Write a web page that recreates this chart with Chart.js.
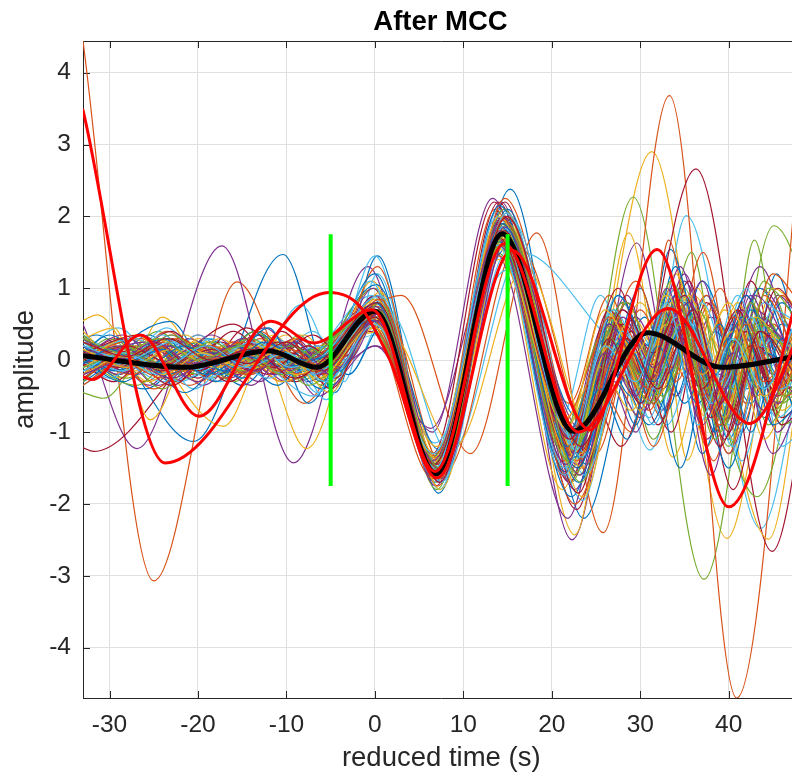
<!DOCTYPE html>
<html>
<head>
<meta charset="utf-8">
<script src="https://cdn.jsdelivr.net/npm/chart.js@4/dist/chart.umd.min.js"></script>
<style>
  html, body { margin: 0; padding: 0; overflow: hidden; background: #fff; }
</style>
</head>
<body>
<canvas id="mcc-chart" width="881" height="782"></canvas>
<script>
// 刻度
const xTicks = [-30, -20, -10, 0, 10, 20, 30, 40];
const yTicks = [-4, -3, -2, -1, 0, 1, 2, 3, 4];

// 細線 (每條為 [時間, 振幅, 時間, 振幅, ...] 的極值點)
const blueLines = [
  [-33,0.3, -31.5,0.35, -20.5,-1.13, -10.4,1.47, -4.5,-0.45, 0.3,1.45, 7.2,-1.85, 15.3,2.38, 23.6,-2.2, 30.5,0.6, 34,-0.5, 37.5,0.9, 41.5,-1.0, 45.4,1.2, 48,0.2],
  [-33,-0.1, -29,0.25, -24,-0.2, -19,0.3, -14,-0.1, -9,0.25, -5.5,-0.2, 0,0.9, 6.8,-1.7, 14.2,2.0, 22,-1.3, 27,0.2, 30,-0.4, 33.4,1.54, 38,-0.6, 42,0.5, 45,-0.3, 48,0.4],
  [-33,0.3, -30,0.0, -25.5,0.35, -21,-0.25, -16,0.2, -12,-0.05, -8,0.3, -5,-0.35, 0.5,0.6, 7,-1.5, 14.5,1.8, 22.8,-1.1, 28,0.8, 32,-0.2, 36,0.7, 40,-1.1, 44,0.6, 48,-0.5],
  [-33,-0.25, -23.1,0.54, -18,-0.3, -13,0.35, -9.5,-0.2, -6.5,0.1, 0,0.75, 6.5,-1.35, 13.8,1.7, 21.5,-1.55, 26,0.3, 29.5,-0.9, 33,0.9, 37,-1.3, 41,0.2, 44,-0.8, 48,0.3],
  [-33,0.05, -26,-0.4, -20,0.15, -15,-0.35, -10,0.2, -6,-0.3, -0.5,0.5, 6.9,-1.6, 14.3,1.9, 23,-0.8, 29,0.4, 33,-0.7, 37,1.1, 42,-0.4, 46,0.8, 48,0.5],
  [-33,0.2, -29.5,-0.15, -24,0.3, -19,-0.15, -13.5,0.4, -8,-0.15, 0.2,1.05, 7.5,-1.65, 15,2.1, 23,-1.7, 28.5,0.1, 31.5,-0.6, 35,0.8, 39,-0.8, 43.5,1.0, 48,-0.4],
  [-33,-0.3, -27,0.1, -21.5,-0.45, -16,0.1, -11,-0.35, -7,0.15, -3,-0.2, 1,0.5, 7.3,-1.25, 14.8,1.55, 24,-1.45, 30,1.0, 34.5,-1.5, 38.5,0.4, 42.5,-0.6, 46,0.5, 48,0.3],
  [-33,0.1, -30,0.35, -25,-0.05, -20,0.25, -15,-0.25, -11,0.1, -6,-0.4, -0.2,0.85, 6.7,-1.45, 13.9,1.6, 22.2,-1.9, 27.5,-0.2, 31,-0.9, 35.5,0.3, 40,-1.5, 44,0.1, 48,-0.2],
  [-33,0.0, -28.5,-0.3, -23,0.2, -17.5,-0.2, -12,0.45, -7.5,-0.6, 0,1.2, 6.8,-1.55, 14.1,2.15, 21.8,-1.0, 26.5,0.5, 30.5,-0.2, 34,1.3, 38.5,-1.0, 42.5,0.7, 48,-0.9],
  [-33,0.05, -29,-0.15, -25,0.2, -20.5,-0.1, -16,0.2, -11.5,0.0, -7,0.15, -4,-0.15, 0.2,0.7, 6.9,-1.5, 14.3,1.85, 22.3,-1.05, 26,0.0, 29,-0.5, 32.5,0.7, 36.5,-0.6, 40,0.3, 43.5,-0.4, 48,0.4],
  [-33,-0.15, -28,0.1, -23.5,-0.2, -18.5,0.1, -14,-0.05, -9.5,0.2, -5.5,-0.1, 0.4,0.6, 7.1,-1.6, 14.5,1.75, 22.6,-1.35, 27.5,0.9, 31,0.2, 34,0.9, 38,-0.3, 42,0.9, 45.5,-0.2, 48,0.2],
  [-33,0.2, -28.5,-0.05, -24,0.15, -19,-0.2, -14.5,0.05, -10,-0.1, -6.5,0.05, -0.3,0.55, 6.6,-1.45, 14,1.65, 21.8,-1.2, 25.5,-0.4, 28.5,-1.1, 32,0.2, 35,-0.6, 39,0.5, 42.5,-1.0, 46,0.3, 48,0.1],
  [-33,-0.05, -30,0.15, -26,-0.1, -21.5,0.2, -17,-0.15, -12.5,0.25, -8,0.0, -5,0.1, 0.1,0.8, 7,-1.55, 14.4,1.9, 22.9,-1.5, 28,0.3, 31.5,-0.3, 35,0.5, 38.5,-0.2, 41.5,0.6, 45,-0.9, 48,-0.6],
];
const orangeLines = [
  [-33,4.44, -25,-3.07, -15.6,1.09, -8,-0.6, -0.2,1.0, 7,-1.6, 14.5,1.9, 22,-1.2, 27,0.3, 31,-0.6, 35,0.6, 39,-0.8, 43,0.4, 48,0.1],
  [-33,-0.1, -28,0.3, -22,-0.2, -16,0.25, -10,-0.1, -4,0.4, 3,0.9, 10.8,-1.3, 18.3,1.77, 25.8,-2.4, 33.3,3.68, 40.9,-4.7, 49.5,5.0],
  [-33,0.15, -29,-0.2, -24,0.25, -18,-0.3, -13,0.3, -8.5,-0.1, -0.5,0.6, 7,-1.4, 14.6,1.85, 22.5,-1.6, 28,0.5, 32.5,-0.8, 37.1,1.5, 41.5,-0.9, 45,0.5, 48,-0.2],
  [-33,-0.2, -27,0.2, -21,-0.35, -15,0.2, -11,-0.2, -6.5,0.15, -3.5,-0.1, 0.5,0.7, 7.2,-1.5, 14.2,1.6, 22,-0.6, 26.5,0.9, 30.5,-0.4, 33.2,1.67, 37.5,-1.2, 41.5,0.3, 45,-0.7, 48,0.4],
  [-33,0.35, -28,0.0, -23.5,0.4, -19,0.0, -14.5,0.3, -10,-0.25, -6,0.1, 0.8,0.8, 8,-1.55, 16.2,1.6, 25,-1.3, 30,0.7, 34,-0.3, 38,0.8, 42,-0.6, 46,0.9, 48,0.6],
  [-33,-0.1, -30.5,0.2, -26,-0.3, -21.5,0.1, -17,-0.1, -13,0.4, -9,0.0, -1,0.65, 6.6,-1.65, 13.6,2.1, 21.3,-1.4, 25.5,-0.4, 29,-1.0, 32,0.5, 35.5,-0.3, 39,1.0, 43,-0.5, 48,0.5],
  [-33,0.05, -26.5,0.3, -20.5,-0.2, -16,0.25, -10.5,-0.3, -5,0.0, 0,0.55, 6.9,-1.45, 14.4,1.75, 22.6,-2.0, 28.5,-0.2, 31,-0.7, 34.5,0.4, 38.3,-1.4, 42.5,0.8, 46,-0.2, 48,0.1],
  [-33,-0.35, -29,-0.05, -25,-0.4, -19.5,0.15, -14,-0.2, -9,0.3, -5.5,-0.3, 0.3,1.3, 7.1,-1.75, 14.7,2.25, 23.3,-1.1, 29.5,1.1, 33.5,-0.1, 37.5,0.9, 41,-0.2, 45,1.2, 48,0.8],
  [-33,0.1, -27.5,-0.2, -22,0.3, -17,-0.25, -12.5,0.15, -8.5,-0.2, -0.5,0.5, 6.8,-1.3, 14,1.45, 21,-0.9, 27,0.6, 31.5,-1.2, 36,0.4, 40,-1.3, 44,0.9, 48,-0.1],
  [-33,0.1, -29.5,-0.1, -25,0.2, -21,-0.15, -16.5,0.15, -12,-0.1, -7.5,0.2, -4.5,-0.05, 0,0.65, 6.9,-1.55, 14.2,1.7, 22.5,-1.1, 27,0.5, 30.5,-0.2, 34,1.0, 37.5,-0.3, 41,0.5, 44.5,-0.6, 48,0.3],
  [-33,-0.1, -28,0.1, -23,-0.15, -18.5,0.2, -14,-0.05, -10,0.25, -5.5,-0.2, 0.3,0.75, 7.2,-1.6, 14.6,1.95, 22.8,-1.4, 28,0.2, 31.5,-0.6, 35,0.5, 39,-0.9, 43,0.2, 46.5,-0.5, 48,-0.4],
  [-33,0.25, -28.5,0.05, -24.5,0.2, -20,-0.1, -15,0.25, -11,-0.15, -6.5,0.05, -0.5,0.6, 6.7,-1.45, 13.9,1.8, 21.5,-1.25, 26.5,0.6, 30,0.0, 33,0.7, 37,-0.5, 40.5,0.6, 44,-0.3, 48,0.6],
  [-33,-0.25, -29,0.0, -24,-0.25, -19,0.05, -14.5,-0.2, -9.5,0.15, -6,-0.1, 0.6,0.85, 7.3,-1.65, 14.8,2.0, 23,-1.0, 27.5,0.1, 31,-0.4, 34.5,0.8, 38,-0.7, 42,0.5, 45.5,-0.4, 48,0.0],
];
const yellowLines = [
  [-33,0.55, -31.4,0.63, -26,-0.1, -21,0.3, -16,-0.2, -11,0.2, -7,-0.1, 0,0.6, 6.9,-1.5, 14.4,1.8, 23,-1.2, 31.3,2.9, 39.8,-2.48, 46,0.6, 48,0.5],
  [-33,0.1, -28.5,-0.25, -24,0.6, -19,-0.1, -13.5,0.25, -7.7,-1.23, -0.3,1.1, 7,-1.7, 14.6,2.0, 22.6,-2.43, 28.7,1.77, 33.7,-1.35, 38,0.3, 42,-0.9, 48,0.6],
  [-33,0.3, -29.5,0.45, -25.4,-0.83, -20,0.3, -15,-0.1, -10,0.35, -6,-0.25, 0.5,0.8, 7.5,-1.4, 15,1.65, 22,-1.15, 27,0.4, 31,-0.6, 36,0.9, 44.5,-2.49, 49,0.6],
  [-33,-0.15, -27.5,0.3, -17.1,-0.92, -11.5,0.35, -6.5,-0.3, 0,0.7, 6.8,-1.6, 14.2,1.95, 22.3,-1.5, 27,0.6, 30,-0.1, 32.5,0.6, 35.3,-1.39, 39.5,0.7, 44,-0.5, 48,0.3],
  [-33,0.2, -27,-0.15, -21.5,0.35, -16.5,-0.15, -12,0.3, -7,-0.1, -0.8,0.7, 6.4,-1.45, 13.7,1.8, 21.2,-1.8, 26,0.0, 30,-0.8, 34,1.2, 38,-0.5, 42,0.6, 46,-0.7, 48,-0.5],
  [-33,-0.1, -28,0.2, -23,-0.2, -17,0.2, -12,-0.15, -6,0.2, 1.5,0.4, 9,-1.2, 17,1.3, 24.5,-1.0, 30,0.8, 34,-0.2, 38,0.7, 41.5,-0.3, 45,1.0, 48,0.7],
  [-33,0.4, -29,0.0, -24.5,0.3, -20,-0.3, -15,0.15, -10.5,-0.3, -4.5,0.25, 0.3,0.5, 7.1,-1.55, 14.9,2.05, 23.2,-1.3, 28,0.3, 32,-0.5, 36,0.8, 39.8,-0.6, 43,0.3, 48,-0.8],
  [-33,-0.2, -30,0.1, -25.5,-0.3, -20.5,0.25, -15.5,-0.2, -10,0.1, -5,-0.45, 0.6,0.95, 7.4,-1.8, 15.1,1.9, 23.5,-1.9, 29,0.6, 33,-0.1, 36.5,1.0, 40.5,-1.1, 44.5,0.4, 48,-0.3],
  [-33,0.0, -27,0.35, -22,-0.1, -17.5,0.3, -13,-0.1, -8,0.35, -4.5,-0.1, 0,0.45, 7,-1.2, 14,1.4, 21.5,-0.8, 25.5,-0.1, 29,-0.7, 33,0.5, 37.5,-0.8, 41,0.2, 45,-0.6, 48,0.5],
  [-33,0.0, -28,0.2, -23.5,-0.1, -19,0.15, -14.5,-0.15, -10,0.1, -6,-0.15, 0,0.7, 7,-1.5, 14.5,1.8, 22.4,-1.2, 27,0.4, 30.5,-0.5, 34,0.6, 37.5,-0.4, 41,0.8, 44.5,-0.3, 48,0.3],
  [-33,-0.1, -29.5,0.1, -25.5,-0.15, -21,0.15, -16,-0.05, -12,0.2, -8,-0.1, -4,0.2, 0.5,0.6, 7.2,-1.4, 14.7,1.7, 23.5,-1.5, 28.5,0.5, 32,-0.2, 35.5,0.9, 39.5,-0.8, 43,0.6, 48,-0.4],
  [-33,0.15, -28,-0.1, -23,0.15, -18,-0.1, -13.5,0.2, -9,-0.2, -5.5,0.0, 0.2,0.85, 6.8,-1.6, 14.1,2.0, 22,-1.35, 26.5,0.2, 30,-0.7, 33.5,0.8, 37,-0.2, 40.5,0.4, 44,-1.1, 48,0.2],
  [-33,-0.2, -28.5,0.05, -24,-0.2, -19.5,0.1, -15,-0.1, -10.5,0.15, -6.5,-0.25, 0,0.5, 6.7,-1.35, 14,1.55, 21.7,-0.95, 26,0.7, 29.5,0.1, 33,0.9, 36.5,0.0, 40,0.8, 44,-0.5, 48,0.5],
];
const purpleLines = [
  [-33,0.5, -26.9,-1.23, -17.3,1.59, -9.2,-1.43, -0.8,1.3, 6.9,-1.7, 14.3,2.2, 22.3,-2.5, 29.6,1.63, 34,-0.5, 38,0.6, 42,-0.6, 45.5,0.9, 48,0.6],
  [-33,-0.1, -28,0.2, -23,-0.3, -18,0.15, -13,-0.3, -8.5,0.3, -4.5,-0.1, 0.2,0.2, 6.5,-1.0, 13.3,2.25, 21.5,-1.2, 26,0.5, 30,-0.3, 33.5,1.0, 37.5,-1.1, 43.5,1.3, 48,-0.3],
  [-33,0.2, -29,-0.2, -24,0.2, -19.5,-0.35, -14.5,0.1, -10,-0.3, -6,0.2, -0.5,0.75, 6.6,-1.55, 13.9,1.9, 22,-1.7, 27,0.4, 31,-0.5, 35,1.1, 39,-0.2, 43.5,1.0, 48,0.2],
  [-33,-0.3, -30,0.05, -25.5,-0.35, -21,0.3, -16,-0.1, -12,0.25, -7.5,-0.3, 0.3,0.9, 7.2,-1.65, 14.6,2.1, 23,-1.25, 28,0.7, 31.5,0.0, 35,1.2, 40,-1.3, 44,0.1, 48,-0.4],
  [-33,0.15, -27,-0.2, -21.5,0.25, -16.5,-0.25, -11,0.2, -6.5,-0.5, 0,0.2, 6.3,-0.95, 13.6,1.5, 21.8,-2.2, 26.5,-0.3, 29.5,-1.0, 33,0.3, 37,-0.4, 40.5,0.5, 45,-1.3, 48,-0.6],
  [-33,0.05, -28.5,0.35, -23.5,-0.15, -18.5,0.35, -13.5,-0.05, -9,0.3, -5,-0.2, 0.5,0.65, 7,-1.45, 14.1,1.85, 22.5,-1.35, 28.5,0.9, 32.5,-0.7, 36,0.5, 39.5,-0.9, 43,0.7, 48,-0.3],
  [-33,-0.2, -29.5,0.15, -24.5,-0.35, -19,0.1, -14,-0.35, -9.5,0.2, -5.5,-0.15, -0.2,1.0, 6.9,-1.75, 14.4,2.0, 22.6,-1.8, 27,-0.3, 30,-0.8, 33.5,0.7, 38,-1.6, 42.5,0.9, 46.5,-0.4, 48,-0.3],
  [-33,0.3, -27.5,0.0, -23,0.35, -18,-0.2, -12.5,0.45, -8,-0.05, -4,0.3, 0,0.55, 7.3,-1.4, 15,1.7, 23.2,-0.95, 27.5,-0.2, 30.5,-0.6, 34.5,1.3, 38.5,-0.5, 42,0.4, 45.5,-1.0, 48,-0.5],
  [-33,-0.05, -26,0.25, -20,-0.3, -15,0.3, -10.5,-0.1, -6.5,0.2, -3,0.0, 0.8,0.7, 7.6,-1.6, 15.2,1.75, 22.8,-1.45, 29.5,0.6, 33,-0.2, 37,1.1, 41,-0.9, 45,0.4, 48,-0.1],
  [-33,0.1, -28,-0.1, -23.5,0.2, -19,-0.1, -14.5,0.15, -10,-0.15, -6,0.1, 0.2,0.7, 7,-1.55, 14.4,1.95, 22.7,-1.3, 27.5,0.3, 31,-0.4, 34.5,0.7, 38.5,-0.7, 42,0.3, 45.5,-0.6, 48,-0.3],
  [-33,-0.05, -29,0.2, -24.5,-0.05, -20,0.2, -15.5,-0.2, -11,0.1, -6.5,-0.2, 0,0.75, 6.9,-1.6, 14.2,1.8, 22.2,-1.1, 26.5,0.5, 30.5,-0.7, 34,0.4, 38,-0.5, 41.5,0.7, 45,-0.2, 48,0.3],
  [-33,0.2, -29,0.0, -25,0.25, -20.5,-0.05, -16,0.2, -11.5,-0.2, -7,0.1, -4,-0.1, 0.4,0.65, 7.2,-1.5, 14.7,1.85, 23.2,-1.6, 28,0.6, 31.5,-0.1, 35.5,0.8, 39.5,-0.4, 43,0.9, 48,-0.2],
  [-33,-0.2, -28,0.0, -23,-0.25, -18,0.05, -13.5,-0.15, -9,0.25, -5,-0.2, 0.1,0.55, 6.6,-1.4, 13.8,1.7, 21.6,-1.45, 26,0.1, 29.5,-0.5, 33,1.0, 37,-0.9, 40.5,0.1, 44,-0.7, 48,0.4],
];
const greenLines = [
  [-33,-0.45, -30.7,-0.53, -25,0.2, -20,-0.2, -15,0.25, -10,-0.1, -5.5,0.2, 0,0.55, 6.8,-1.5, 14.2,1.75, 22.2,-1.7, 29.2,2.27, 37.2,-3.05, 45.1,1.87, 50,0.6],
  [-33,0.1, -28,-0.25, -23,0.2, -18.5,-0.25, -13,0.35, -8,0.0, -5,0.15, 0.3,0.8, 7,-1.6, 14.5,1.95, 22.8,-1.2, 27.5,0.4, 31.5,-0.5, 35.8,1.5, 39.5,-0.6, 42.9,1.67, 46.5,-0.5, 48,-0.3],
  [-33,0.25, -29,0.0, -24.5,0.4, -19.5,-0.15, -14,0.2, -9,-0.3, -4.5,0.0, 0.6,0.7, 7.1,-1.5, 14.9,1.8, 22,-1.0, 26.5,0.3, 30,-0.6, 34.5,0.9, 43.2,-1.9, 49,0.8],
  [-33,-0.15, -27.5,0.2, -22.5,-0.3, -17,0.15, -12.5,-0.1, -8.5,0.35, -5,-0.3, 0,0.6, 6.7,-1.4, 14.3,1.6, 21.5,-1.35, 27,0.7, 31.5,-1.1, 36,0.5, 40,-0.7, 44,1.1, 48,0.0],
  [-33,0.05, -30,0.3, -25.5,-0.15, -21,0.25, -16,-0.3, -11.5,0.1, -7,-0.2, -0.5,0.5, 6.6,-1.35, 13.8,1.5, 21.8,-0.9, 26,0.2, 30,-0.4, 34,0.6, 38,-0.8, 42,0.3, 46,-0.6, 48,-0.4],
  [-33,0.35, -28.5,-0.1, -23.5,0.3, -18,-0.05, -13.5,0.4, -8.5,-0.25, 0,1.0, 7,-1.8, 14.6,2.1, 23,-1.6, 28.5,0.2, 32,-0.5, 35.5,0.5, 40,-1.2, 44,0.6, 48,-0.4],
  [-33,-0.3, -29,0.1, -24,-0.4, -19,0.2, -14.5,-0.2, -10,0.2, -6,-0.35, 0.2,0.75, 7.2,-1.6, 14.2,1.8, 22.3,-1.4, 27,0.6, 31,-0.2, 35,1.0, 39,-1.0, 43,0.6, 48,-0.5],
  [-33,0.0, -27,-0.35, -21.5,0.2, -16.5,-0.2, -12,0.15, -7.5,-0.35, -0.5,0.45, 6.8,-1.3, 14,1.65, 21,-1.05, 26,0.4, 30,-0.3, 34,0.8, 38.5,-0.6, 42.5,0.5, 46,-0.9, 48,-0.8],
  [-33,0.15, -28,-0.1, -23,0.35, -18.5,0.0, -14,0.3, -9.5,-0.15, -5.5,0.25, 0.5,0.65, 7.3,-1.55, 15,1.9, 22.8,-1.55, 28,0.8, 32,-0.6, 36.5,0.7, 40.5,-0.4, 44.5,1.0, 48,0.5],
  [-33,0.0, -28.5,0.2, -24,-0.05, -19.5,0.2, -15,-0.15, -10.5,0.05, -6.5,-0.15, 0,0.7, 6.9,-1.55, 14.3,1.8, 22.5,-1.25, 27,0.5, 30.5,-0.3, 34,0.7, 38,-0.5, 41.5,0.6, 45,-0.7, 48,-0.2],
  [-33,0.15, -29.5,-0.05, -25,0.2, -20,-0.1, -15.5,0.1, -11,-0.15, -7,0.15, -4,-0.1, 0.5,0.8, 7.1,-1.65, 14.6,1.9, 22.9,-1.15, 28.5,0.8, 32.5,-0.5, 36,0.3, 39.5,-0.9, 43.5,0.5, 48,-0.1],
  [-33,-0.1, -28,0.1, -23.5,-0.1, -18.5,0.25, -14,0.0, -9.5,0.2, -5.5,-0.05, 0,0.6, 6.6,-1.45, 14,1.7, 21.9,-1.4, 26.5,0.3, 30,-0.2, 33.5,1.1, 37.5,-0.4, 41,0.3, 44.5,-0.9, 48,0.1],
  [-33,0.3, -28.5,0.1, -24.5,0.3, -20,0.0, -15,0.2, -10.5,-0.2, -6.5,0.1, 0.3,0.7, 7.3,-1.5, 14.8,1.75, 23.3,-1.7, 28,0.1, 31,-0.6, 34.5,0.5, 38.5,-1.1, 42.5,0.8, 46,-0.5, 48,-0.4],
];
const skyLines = [
  [-33,0.1, -29,0.45, -24,-0.1, -19,0.25, -14,-0.2, -8.4,0.77, -3.5,-0.3, 0.3,1.2, 7.3,-1.8, 14.5,2.0, 22.5,-1.4, 27.5,0.3, 31,-0.4, 35.2,2.01, 43.6,-2.34, 49,0.5],
  [-33,-0.05, -28,0.3, -23,-0.2, -17,0.2, -12,-0.1, -7,0.4, -3,-0.2, 1.5,0.7, 8.5,-1.3, 16.6,1.5, 29.5,0.1, 33.5,0.6, 37.5,-0.7, 42,0.4, 46,-0.3, 48,-0.2],
  [-33,0.2, -27.5,-0.2, -22.5,0.25, -17.5,-0.3, -12.5,0.2, -8,-0.2, -4,0.2, 0,1.45, 6.9,-1.7, 14,2.1, 21,-0.8, 25.5,0.9, 31.1,-1.25, 35.5,0.4, 39.5,-0.6, 43,0.5, 48,-0.9],
  [-33,-0.2, -29.5,0.15, -25,-0.2, -20,0.35, -15.5,-0.05, -11,0.3, -6.5,-0.45, 0.5,0.7, 7.4,-1.5, 15.2,1.55, 23.5,-1.95, 28.5,0.5, 33,-0.9, 37,0.3, 41.5,-1.4, 45.5,0.2, 48,0.0],
  [-33,0.35, -28,0.05, -23.5,0.45, -19,-0.1, -14,0.3, -9,-0.1, -0.3,0.9, 6.5,-1.5, 13.7,1.85, 21.7,-1.1, 26.5,0.6, 30.5,-0.4, 34.5,0.7, 38,-0.2, 42,1.0, 46,-1.2, 48,-1.0],
  [-33,0.0, -30,-0.25, -25,0.2, -20.5,-0.4, -15,0.15, -10,-0.2, -6,0.0, 0.2,0.35, 6.8,-1.15, 14.8,1.25, 24,-1.3, 28.5,-0.1, 31.5,-0.9, 35.5,0.6, 40,-0.9, 44,0.2, 48,-0.6],
  [-33,-0.35, -28.5,-0.05, -24,-0.3, -18.5,0.3, -13.5,-0.15, -9.5,0.15, -5.5,-0.55, 0,0.8, 7,-1.65, 14.3,1.9, 22.5,-1.2, 27,0.2, 31,-0.8, 35,0.9, 40,-0.4, 44,0.8, 48,0.2],
  [-33,0.1, -27,0.3, -22,-0.3, -17,0.1, -12,-0.25, -7.5,0.2, -4,-0.1, 0.5,0.6, 7.5,-1.7, 15.5,1.95, 23.8,-1.6, 29,0.5, 33,-0.1, 37,0.8, 41,-0.5, 45,0.3, 48,0.1],
  [-33,0.25, -29,-0.1, -24,0.35, -19,-0.25, -14.5,0.05, -6.9,-0.5, -0.5,1.1, 6.5,-1.6, 13.9,2.0, 21.5,-1.5, 27.5,0.9, 32,-0.3, 36,0.5, 40.5,-1.2, 45,0.7, 48,0.5],
  [-33,0.05, -28.5,-0.15, -24,0.15, -19.5,-0.15, -15,0.2, -10.5,0.0, -6.5,0.2, -3.5,0.0, 0.3,0.75, 7.1,-1.6, 14.5,1.85, 22.7,-1.25, 27,0.1, 30.5,-0.6, 34,0.6, 37.5,-0.3, 41,0.9, 44.5,-0.1, 48,0.6],
  [-33,-0.1, -29,0.05, -24.5,-0.2, -20,0.1, -15.5,-0.1, -11,0.2, -7,-0.2, 0,0.6, 6.8,-1.5, 14.2,1.75, 22.1,-1.05, 27,0.7, 30.5,0.0, 34,1.0, 38,-0.6, 42,0.1, 45.5,-0.8, 48,-0.5],
  [-33,0.2, -28,0.0, -23,0.25, -18.5,-0.05, -14,0.25, -9.5,-0.1, -6,0.05, 0.6,0.9, 7.4,-1.7, 14.9,2.05, 23.4,-1.35, 28,0.4, 31.5,-0.4, 35,0.6, 39,-0.3, 42.5,0.6, 46,-0.4, 48,-0.2],
  [-33,-0.15, -28.5,0.1, -24,-0.1, -19,0.2, -14.5,-0.1, -10,0.1, -5.5,-0.3, 0,0.5, 6.6,-1.3, 13.9,1.6, 21.4,-1.6, 26,0.2, 29.5,-0.3, 33,0.8, 36.5,-0.9, 40.5,0.3, 44,-0.4, 48,0.7],
];
const wineLines = [
  [-33,-1.22, -31.8,-1.27, -16,0.5, -10,-0.2, -5,0.2, 0,0.65, 6.9,-1.5, 14.4,1.9, 22.8,-2.08, 28.5,0.8, 32.5,-0.4, 36.5,0.6, 40,-0.8, 44,0.5, 48,-0.1],
  [-33,0.2, -28,-0.15, -23,0.3, -18,-0.1, -13.5,0.35, -8,-0.15, 0.3,0.8, 7,-1.6, 14.7,2.2, 21.5,-1.1, 24.5,-0.5, 27.8,-1.2, 36.3,2.66, 44.9,-2.66, 50,0.5],
  [-33,0.05, -29,0.3, -24.5,-0.1, -20,0.35, -15,-0.15, -10.5,0.4, -6,-0.2, 0,0.9, 6.7,-1.65, 14,2.2, 22,-1.7, 27,0.6, 31,-0.2, 34.5,1.0, 38.5,-0.8, 42.5,1.1, 46.5,-0.3, 48,-0.2],
  [-33,-0.15, -27,0.15, -22.5,-0.3, -17.5,0.25, -12,-0.2, -8,0.15, -4.5,-0.25, 0.5,0.7, 7.2,-1.55, 14.5,2.0, 23,-1.3, 28.5,0.3, 32,-0.9, 36,0.4, 40.5,-1.8, 45,0.3, 48,-0.3],
  [-33,0.3, -28.5,0.0, -23,0.4, -18,-0.2, -13,0.1, -9,-0.3, -5.5,0.1, -0.5,0.4, 6.5,-1.3, 13.5,2.2, 21.3,-1.6, 26.5,0.7, 30.5,-0.5, 34,0.4, 38,-0.6, 42,0.9, 46,-0.8, 48,-0.6],
  [-33,-0.05, -29.5,-0.3, -25,0.15, -20,-0.25, -14.5,0.45, -8.5,-0.2, -4,0.1, 0.2,0.6, 7,-1.45, 14.3,1.75, 23.5,-1.5, 29,0.4, 33.5,-1.0, 37.5,0.8, 41.5,-0.3, 45.5,1.0, 48,0.6],
  [-33,0.2, -27.5,-0.05, -22,0.3, -16.5,-0.3, -11,0.25, -6.5,-0.1, 0,0.75, 7,-1.6, 14.8,1.8, 22.4,-1.0, 27,0.1, 30,-0.3, 33.5,0.6, 37,-0.2, 41.5,0.7, 45,-0.4, 48,0.4],
  [-33,-0.25, -28,0.05, -23,-0.35, -18,0.1, -13.5,-0.15, -9,0.2, -5,-0.4, 0.4,0.7, 7.4,-1.7, 14.6,1.95, 23,-1.85, 28,0.5, 32,-0.1, 35.5,1.1, 39.5,-1.1, 43.5,0.4, 48,-0.5],
  [-33,0.1, -26.5,0.35, -21,-0.1, -16,0.4, -11.5,0.0, -7,0.35, -3.5,0.05, 0.3,0.55, 6.9,-1.35, 14,1.6, 21.8,-1.25, 27.5,1.0, 31.5,-0.4, 35,0.3, 39,-1.2, 43,0.2, 48,-0.6],
  [-33,0.0, -28,0.2, -23,-0.05, -18.5,0.15, -14,-0.15, -9.5,0.1, -5.5,-0.2, 0.2,0.7, 7,-1.6, 14.4,1.9, 22.6,-1.3, 27.5,0.5, 31,-0.3, 34.5,0.6, 38,-0.8, 42,0.4, 45.5,-0.5, 48,0.0],
  [-33,0.15, -29,-0.1, -24.5,0.2, -20,-0.15, -15.5,0.1, -11.5,-0.1, -7.5,0.2, -4.5,0.0, 0.4,0.65, 7.1,-1.5, 14.6,1.8, 22.9,-1.5, 28,0.7, 31.5,0.1, 35,0.9, 39,-0.6, 42.5,0.2, 46,-0.9, 48,-0.7],
  [-33,-0.2, -28.5,0.05, -24,-0.15, -19,0.2, -14.5,-0.05, -10,0.25, -6,-0.15, 0,0.6, 6.7,-1.45, 14,1.7, 22,-1.1, 26.5,0.3, 30,-0.6, 33.5,0.5, 37,-0.4, 41,0.7, 44.5,-0.3, 48,0.3],
  [-33,0.25, -28,0.05, -23.5,0.3, -18.5,0.0, -14,0.15, -9,-0.25, -5.5,0.05, 0.3,0.8, 7.3,-1.7, 14.9,2.0, 23.3,-1.2, 28.5,0.3, 32,-0.4, 36,0.7, 40,-1.0, 43.5,0.4, 48,-0.3],
];

// 平均線與兩條紅線
const meanLine = [-33,0.06, -21.5,-0.1, -12,0.13, -6.6,-0.1, 0,0.68, 6.9,-1.58, 14.4,1.76, 22.4,-0.99, 30.8,0.38, 39.3,-0.1, 48,0.06];
const redLineA = [-33,3.48, -23.7,-1.43, -5.2,0.94, -1.7,0.75, 1.7,0.0, 7,-1.64, 15.5,1.53, 24.3,-0.97, 31.9,1.54, 40,-2.04, 48.5,1.2];
const redLineB = [-33,-0.23, -32,-0.27, -26.5,0.35, -19.9,-0.78, -11.8,0.54, -6.9,0.24, -0.3,0.7, 6.8,-1.55, 14.6,1.62, 23,-1.0, 33.2,0.72, 42.4,-0.88, 48.5,0.5];

// 綠色標記線
const markerTimes = [-5, 15];
const markerRange = [-1.75, 1.75];

const toPoints = (arr) => {
  const pts = [];
  for (let i = 0; i < arr.length; i += 2) {
    pts.push({ x: arr[i], y: arr[i + 1] });
  }
  return pts;
};

const lineBase = {
  pointRadius: 0,
  cubicInterpolationMode: "monotone",
  capBezierPoints: false,
  borderJoinStyle: "round",
  borderCapStyle: "round",
  clip: 0,
};

// 依 MATLAB 顏色順序交錯排列
const groups = [
  ["#0072BD", blueLines],
  ["#D95319", orangeLines],
  ["#EDB120", yellowLines],
  ["#7E2F8E", purpleLines],
  ["#77AC30", greenLines],
  ["#4DBEEE", skyLines],
  ["#A2142F", wineLines],
];
const thinSets = [];
for (let i = 0; i < blueLines.length; i++) {
  groups.forEach(([color, lines]) => {
    thinSets.push({
      ...lineBase,
      data: toPoints(lines[i]),
      borderColor: color,
      borderWidth: 1.2,
    });
  });
}
thinSets.reverse();

const datasets = [
  ...markerTimes.map((t) => ({
    data: markerRange.map((v) => ({ x: t, y: v })),
    borderColor: "#00FF00",
    borderWidth: 4,
    pointRadius: 0,
    borderCapStyle: "butt",
    clip: 0,
  })),
  { ...lineBase, data: toPoints(redLineA), borderColor: "#FF0000", borderWidth: 3 },
  { ...lineBase, data: toPoints(redLineB), borderColor: "#FF0000", borderWidth: 3 },
  { ...lineBase, data: toPoints(meanLine), borderColor: "#000000", borderWidth: 5 },
  ...thinSets,
];

// 內向刻度與上框線
const axisBox = {
  id: "axisBox",
  beforeDatasetsDraw(chart) {
    const { ctx, chartArea, scales } = chart;
    const { left, right, top, bottom } = chartArea;
    ctx.save();
    ctx.strokeStyle = "#262626";
    ctx.lineWidth = 1;
    ctx.beginPath();
    ctx.moveTo(left, top + 0.5);
    ctx.lineTo(right, top + 0.5);
    xTicks.forEach((v) => {
      const px = Math.round(scales.x.getPixelForValue(v)) + 0.5;
      ctx.moveTo(px, bottom);
      ctx.lineTo(px, bottom - 7);
      ctx.moveTo(px, top);
      ctx.lineTo(px, top + 7);
    });
    yTicks.forEach((v) => {
      const py = Math.round(scales.y.getPixelForValue(v)) + 0.5;
      ctx.moveTo(left, py);
      ctx.lineTo(left + 7, py);
    });
    ctx.stroke();
    ctx.restore();
  },
};

const fontFamily = '"Liberation Sans", Arial, Helvetica, sans-serif';
Chart.defaults.font.family = fontFamily;

new Chart(document.getElementById("mcc-chart"), {
  type: "line",
  data: { datasets },
  options: {
    responsive: false,
    animation: false,
    events: [],
    layout: { padding: 0 },
    plugins: {
      legend: { display: false },
      tooltip: { enabled: false },
      title: {
        display: true,
        text: "After MCC",
        color: "#000000",
        font: { size: 27.5, weight: "bold" },
        padding: { top: 6, bottom: 2 },
      },
    },
    scales: {
      x: {
        type: "linear",
        min: -33,
        max: 48,
        afterBuildTicks: (s) => {
          s.ticks = xTicks.map((v) => ({ value: v }));
        },
        afterFit: (s) => {
          s.height = 84;
        },
        grid: { color: "#dfdfdf", drawTicks: false },
        border: { color: "#262626", width: 1 },
        ticks: {
          color: "#262626",
          font: { size: 24.5 },
          padding: 13,
          maxRotation: 0,
          autoSkip: false,
        },
        title: {
          display: true,
          text: "reduced time (s)",
          color: "#262626",
          font: { size: 27.5 },
          padding: { top: 0, bottom: 7 },
        },
      },
      y: {
        type: "linear",
        min: -4.7,
        max: 4.44,
        afterBuildTicks: (s) => {
          s.ticks = yTicks.map((v) => ({ value: v }));
        },
        afterFit: (s) => {
          s.width = 83;
        },
        grid: { color: "#dfdfdf", drawTicks: false },
        border: { color: "#262626", width: 1 },
        ticks: { color: "#262626", font: { size: 24.5 }, padding: 12 },
        title: {
          display: true,
          text: "amplitude",
          color: "#262626",
          font: { size: 27.5 },
          padding: { top: 9, bottom: 0 },
        },
      },
      // 右側留白，讓標題置中於繪圖區
      spacer: {
        type: "linear",
        position: "right",
        min: 0,
        max: 1,
        grid: { display: false, drawTicks: false },
        border: { display: false },
        ticks: { display: false },
        afterFit: (s) => {
          s.width = 81.5;
        },
      },
    },
  },
  plugins: [axisBox],
});
</script>
</body>
</html>
